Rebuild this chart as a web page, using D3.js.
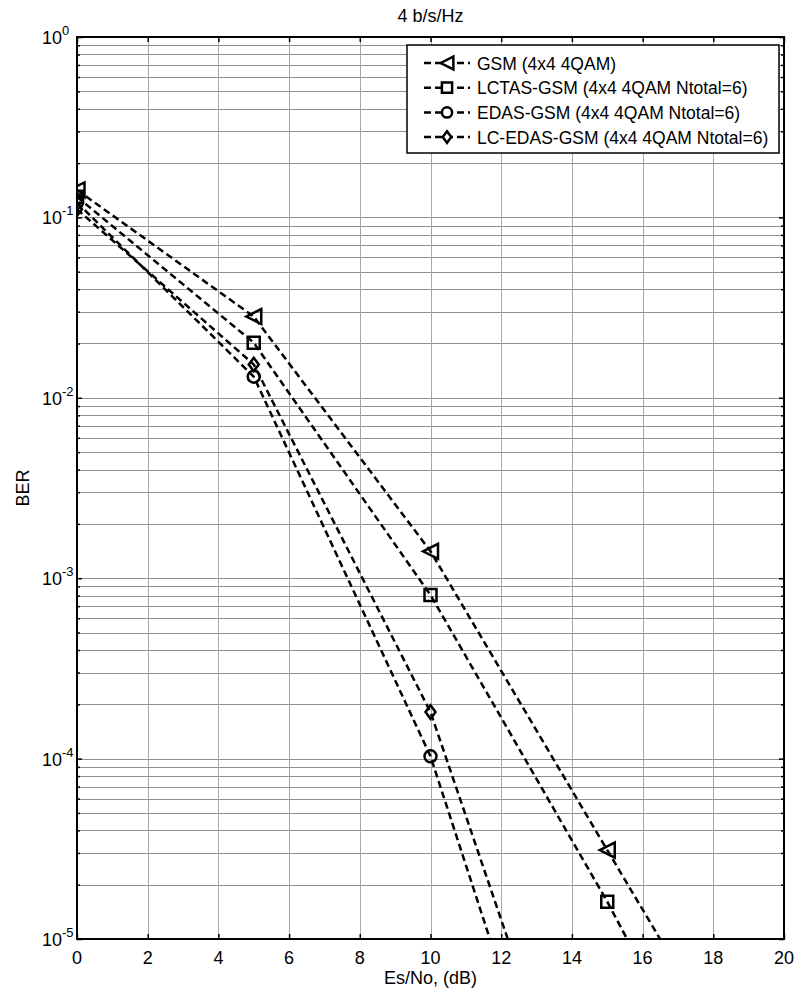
<!DOCTYPE html>
<html>
<head>
<meta charset="utf-8">
<script src="https://cdn.jsdelivr.net/npm/d3@7"></script>
<style>
  body { margin: 0; background: white; }
  text { font-family: "Liberation Sans", Arial, sans-serif; fill: #000; }
</style>
</head>
<body>
<div id="chart"></div>
<script>
var svgWidth = 794;
var svgHeight = 990;

// Define the chart's margins
var margin = { top: 37, right: 10, bottom: 51, left: 77 };
var chartWidth = 784 - margin.left;
var chartHeight = 939 - margin.top;

// Data
var snrDb = [0, 5, 10, 15, 20];
var gsmBer     = [0.142, 0.0282, 1.41e-3, 3.11e-5, 7e-7];
var lctasBer   = [0.130, 0.0202, 8.07e-4, 1.61e-5, 2.3e-7];
var edasBer    = [0.121, 0.0131, 1.03e-4, 1.0e-7];
var lcEdasBer  = [0.111, 0.0153, 1.81e-4, 2.4e-7];
var seriesNames = ["GSM (4x4 4QAM)", "LCTAS-GSM (4x4 4QAM Ntotal=6)",
                   "EDAS-GSM (4x4 4QAM Ntotal=6)", "LC-EDAS-GSM (4x4 4QAM Ntotal=6)"];
var seriesMarkers = ["triangle", "square", "circle", "diamond"];
var xTicks = [0, 2, 4, 6, 8, 10, 12, 14, 16, 18, 20];
var yDecades = [0, -1, -2, -3, -4, -5];

var allSeries = [gsmBer, lctasBer, edasBer, lcEdasBer].map(function(vals, i) {
  return {
    name: seriesNames[i],
    marker: seriesMarkers[i],
    points: vals.map(function(v, j) { return { x: snrDb[j], y: v }; })
  };
});

var svg = d3.select("#chart")
  .append("svg")
  .attr("width", svgWidth)
  .attr("height", svgHeight);

var chartGroup = svg.append("g")
  .attr("transform", `translate(${margin.left}, ${margin.top})`);

var xScale = d3.scaleLinear().domain([0, 20]).range([0, chartWidth]);
var yScale = d3.scaleLog().domain([1e-5, 1]).range([chartHeight, 0]);

// minor log ticks 2..9 for every decade
var minorTicks = [];
yDecades.slice(1).forEach(function(e) {
  for (var k = 2; k <= 9; k++) minorTicks.push(k * Math.pow(10, e));
});
var majorTicks = yDecades.map(function(e) { return Math.pow(10, e); });

// Grid lines
var grid = chartGroup.append("g");
grid.selectAll(".ygrid")
  .data(minorTicks.concat(majorTicks))
  .enter().append("line")
  .attr("x1", 0).attr("x2", chartWidth)
  .attr("y1", d => Math.round(yScale(d)) + 0.5)
  .attr("y2", d => Math.round(yScale(d)) + 0.5)
  .attr("stroke", "#909090")
  .attr("stroke-width", 1);
grid.selectAll(".xgrid")
  .data(xTicks)
  .enter().append("line")
  .attr("x1", d => Math.round(xScale(d)) + 0.5)
  .attr("x2", d => Math.round(xScale(d)) + 0.5)
  .attr("y1", 0).attr("y2", chartHeight)
  .attr("stroke", "#a8a8a8")
  .attr("stroke-width", 1);

// Axes with inward ticks
var bottomAxis = d3.axisBottom(xScale).tickValues(xTicks).tickSize(-5).tickFormat("");
var topAxis = d3.axisTop(xScale).tickValues(xTicks).tickSize(-5).tickFormat("");
var leftAxis = d3.axisLeft(yScale).tickValues(majorTicks).tickSize(-5).tickFormat("");
var rightAxis = d3.axisRight(yScale).tickValues(majorTicks).tickSize(-5).tickFormat("");
var leftMinor = d3.axisLeft(yScale).tickValues(minorTicks).tickSize(-3).tickFormat("");
var rightMinor = d3.axisRight(yScale).tickValues(minorTicks).tickSize(-3).tickFormat("");

function styleAxis(g) {
  g.select(".domain").remove();
  g.selectAll("line").attr("stroke", "#000").attr("stroke-width", 1.5);
}
chartGroup.append("g").attr("transform", `translate(0, ${chartHeight})`).call(bottomAxis).call(styleAxis);
chartGroup.append("g").call(topAxis).call(styleAxis);
chartGroup.append("g").call(leftAxis).call(styleAxis);
chartGroup.append("g").call(leftMinor).call(styleAxis);
chartGroup.append("g").attr("transform", `translate(${chartWidth}, 0)`).call(rightAxis).call(styleAxis);
chartGroup.append("g").attr("transform", `translate(${chartWidth}, 0)`).call(rightMinor).call(styleAxis);

// Clip for data
svg.append("defs").append("clipPath").attr("id", "plotClip")
  .append("rect").attr("x", 0).attr("y", 0).attr("width", chartWidth).attr("height", chartHeight);

var dataGroup = chartGroup.append("g").attr("clip-path", "url(#plotClip)");

var createLine = d3.line()
  .x(d => xScale(d.x))
  .y(d => yScale(d.y));

function markerPath(type, s) {
  if (type === "triangle") return `M${-s},0L${s},${-s}L${s},${s}Z`;
  if (type === "square") return `M${-s},${-s}H${s}V${s}H${-s}Z`;
  if (type === "diamond") return `M0,${-s * 1.35}L${s},0L0,${s * 1.35}L${-s},0Z`;
  return `M${s},0A${s},${s} 0 1,1 ${-s},0A${s},${s} 0 1,1 ${s},0Z`;
}
var markerSize = { triangle: 7.5, square: 6, circle: 6, diamond: 5 };

allSeries.forEach(function(s) {
  dataGroup.append("path")
    .attr("d", createLine(s.points))
    .attr("fill", "none")
    .attr("stroke", "#000")
    .attr("stroke-width", 2.5)
    .attr("stroke-dasharray", "7,4");
  dataGroup.selectAll(null)
    .data(s.points)
    .enter().append("path")
    .attr("transform", d => `translate(${xScale(d.x)}, ${yScale(d.y)})`)
    .attr("d", markerPath(s.marker, markerSize[s.marker]))
    .attr("fill", "none")
    .attr("stroke", "#000")
    .attr("stroke-width", 2.5);
});

// Box
chartGroup.append("rect")
  .attr("x", 0).attr("y", 0)
  .attr("width", chartWidth).attr("height", chartHeight)
  .attr("fill", "none").attr("stroke", "#000").attr("stroke-width", 2);

// X tick labels
chartGroup.append("g").selectAll("text")
  .data(xTicks)
  .enter().append("text")
  .attr("x", d => xScale(d))
  .attr("y", chartHeight + 25)
  .attr("text-anchor", "middle")
  .attr("font-size", 18)
  .text(d => d);

// Y tick labels: 10 with superscript exponent
var yLabels = chartGroup.append("g").selectAll("text")
  .data(yDecades)
  .enter().append("text")
  .attr("x", -35)
  .attr("y", d => yScale(Math.pow(10, d)) + 7)
  .attr("text-anchor", "start")
  .attr("font-size", 18);
yLabels.append("tspan").text("10");
yLabels.append("tspan").attr("dy", -9).attr("font-size", 13).text(d => d);

// Title and axis labels
svg.append("text")
  .attr("x", margin.left + chartWidth / 2)
  .attr("y", 22)
  .attr("text-anchor", "middle")
  .attr("font-size", 18)
  .text("4 b/s/Hz");

svg.append("text")
  .attr("x", margin.left + chartWidth / 2)
  .attr("y", 984)
  .attr("text-anchor", "middle")
  .attr("font-size", 18)
  .text("Es/No, (dB)");

svg.append("text")
  .attr("transform", `translate(29, ${margin.top + chartHeight / 2}) rotate(-90)`)
  .attr("text-anchor", "middle")
  .attr("font-size", 18)
  .text("BER");

// Legend
var legendGroup = svg.append("g").attr("transform", "translate(407, 45)");
legendGroup.append("rect")
  .attr("x", 0).attr("y", 0)
  .attr("width", 372).attr("height", 108)
  .attr("fill", "white")
  .attr("stroke", "#000")
  .attr("stroke-width", 1.5);

var legendRows = legendGroup.selectAll(".row")
  .data(allSeries)
  .enter().append("g")
  .attr("transform", (d, i) => `translate(0, ${18 + i * 24.7})`);

legendRows.append("line")
  .attr("x1", 17).attr("x2", 63)
  .attr("y1", 0).attr("y2", 0)
  .attr("stroke", "#000")
  .attr("stroke-width", 2.5)
  .attr("stroke-dasharray", "7,4");
legendRows.append("path")
  .attr("transform", "translate(40, 0)")
  .attr("d", d => markerPath(d.marker, markerSize[d.marker] * 0.85))
  .attr("fill", "white")
  .attr("stroke", "#000")
  .attr("stroke-width", 2.5);
legendRows.append("text")
  .attr("x", 70)
  .attr("y", 6.5)
  .attr("font-size", 17.5)
  .text(d => d.name);
</script>
</body>
</html>
